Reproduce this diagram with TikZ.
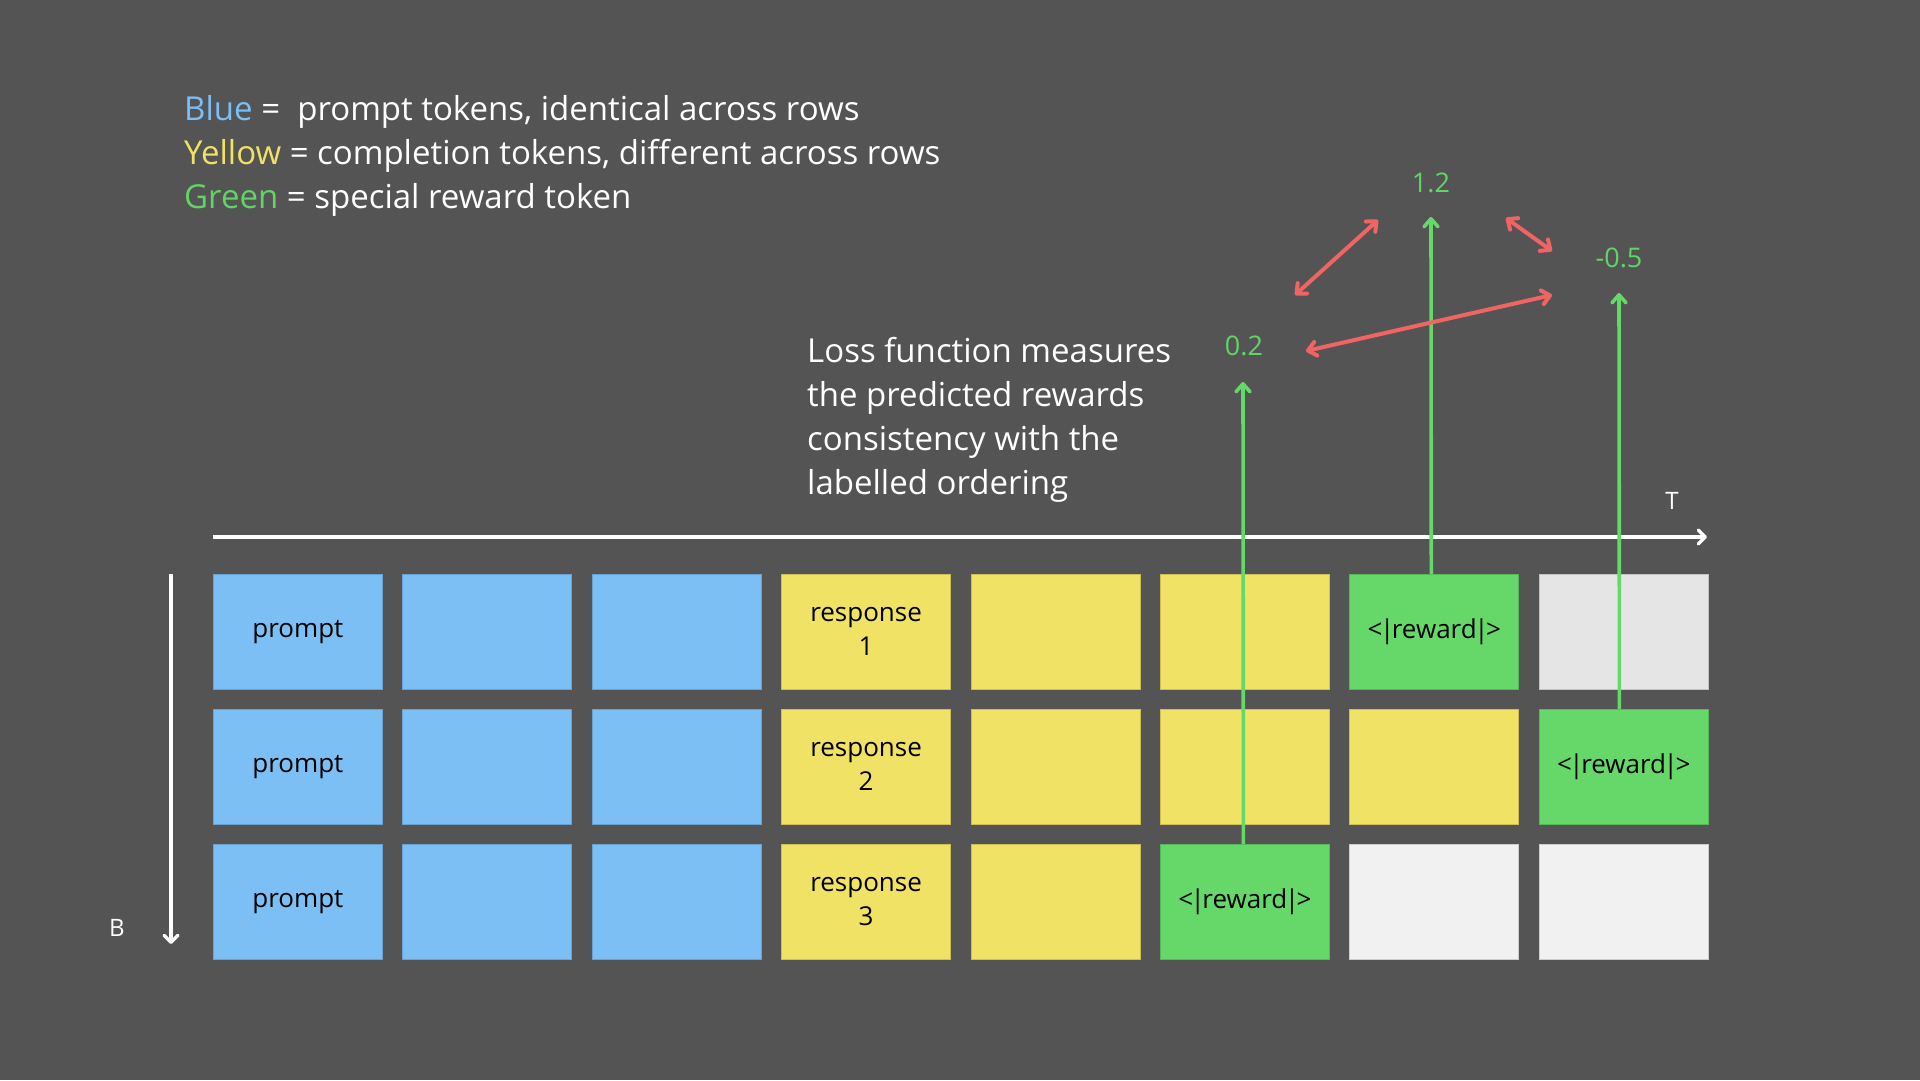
\documentclass[tikz,border=0pt]{standalone}
\usepackage{fontspec}
\setmainfont{Open Sans}
\usetikzlibrary{arrows.meta}
\definecolor{bg}{HTML}{545454}
\definecolor{cblue}{HTML}{7BBFF5}
\definecolor{cyellow}{HTML}{F0E264}
\definecolor{cgreen}{HTML}{66D86A}
\definecolor{cgrayA}{HTML}{E5E5E5}
\definecolor{cgrayB}{HTML}{F1F1F1}
\definecolor{cred}{HTML}{F06464}
\definecolor{tblue}{HTML}{7BBFF5}
\definecolor{tyellow}{HTML}{F0E264}
\definecolor{tgreen}{HTML}{62D466}
\newcommand{\rewardtok}{<\kern-2.5pt|\kern-2.5pt reward\kern-2.5pt|\kern-2.5pt>}
\tikzset{
  cell/.style={minimum width=169pt, minimum height=115pt, inner sep=0pt, anchor=north west,
    font=\fontsize{26}{34}\selectfont, align=center, text=black, draw=#1!85!black, line width=0.8pt, fill=#1},
  legend/.style={anchor=base west, inner sep=0pt, text=white, font=\fontsize{33}{44}\selectfont},
  axislbl/.style={inner sep=0pt, text=white, font=\fontsize{24}{28}\selectfont},
  vallbl/.style={inner sep=0pt, text=tgreen, font=\fontsize{27}{30}\selectfont},
  axisline/.style={draw=white, line width=3.4pt, -{Straight Barb[length=7pt,width=14pt,round]}},
  garrow/.style={draw=cgreen, line width=3.6pt, -{Straight Barb[length=8pt,width=14pt,round]}},
  rarrow/.style={draw=cred, line width=4pt, {Straight Barb[length=8pt,width=14pt,round]}-{Straight Barb[length=8pt,width=14pt,round]}, line cap=round},
}
\begin{document}
\begin{tikzpicture}[x=1pt,y=-1pt]
\fill[bg] (0,0) rectangle (1920,1080);
\useasboundingbox (0,0) rectangle (1920,1080);

% legend
\node[legend] (leg1) at (184,120) {\textcolor{tblue}{Blue} =\ \ prompt tokens, identical across rows};
\node[legend] (leg2) at (184,164) {\textcolor{tyellow}{Yellow} = completion tokens, different across rows};
\node[legend] (leg3) at (184,208) {\textcolor{tgreen}{Green} = special reward token};

% loss text
\node[legend] (loss1) at (807,362) {Loss function measures};
\node[legend] (loss2) at (807,406) {the predicted rewards};
\node[legend] (loss3) at (807,450) {consistency with the};
\node[legend] (loss4) at (807,494) {labelled ordering};

% cells
\def\px{189.4}
% row 1
\node[cell=cblue]   (r1c1) at (213+0*\px,574) {prompt};
\node[cell=cblue]   (r1c2) at (213+1*\px,574) {};
\node[cell=cblue]   (r1c3) at (213+2*\px,574) {};
\node[cell=cyellow] (r1c4) at (213+3*\px,574) {response\\1};
\node[cell=cyellow] (r1c5) at (213+4*\px,574) {};
\node[cell=cyellow] (r1c6) at (213+5*\px,574) {};
\node[cell=cgreen]  (r1c7) at (213+6*\px,574) {\rewardtok};
\node[cell=cgrayA]  (r1c8) at (213+7*\px,574) {};
% row 2
\node[cell=cblue]   (r2c1) at (213+0*\px,709) {prompt};
\node[cell=cblue]   (r2c2) at (213+1*\px,709) {};
\node[cell=cblue]   (r2c3) at (213+2*\px,709) {};
\node[cell=cyellow] (r2c4) at (213+3*\px,709) {response\\2};
\node[cell=cyellow] (r2c5) at (213+4*\px,709) {};
\node[cell=cyellow] (r2c6) at (213+5*\px,709) {};
\node[cell=cyellow] (r2c7) at (213+6*\px,709) {};
\node[cell=cgreen]  (r2c8) at (213+7*\px,709) {\rewardtok};
% row 3
\node[cell=cblue]   (r3c1) at (213+0*\px,844) {prompt};
\node[cell=cblue]   (r3c2) at (213+1*\px,844) {};
\node[cell=cblue]   (r3c3) at (213+2*\px,844) {};
\node[cell=cyellow] (r3c4) at (213+3*\px,844) {response\\3};
\node[cell=cyellow] (r3c5) at (213+4*\px,844) {};
\node[cell=cgreen]  (r3c6) at (213+5*\px,844) {\rewardtok};
\node[cell=cgrayB]  (r3c7) at (213+6*\px,844) {};
\node[cell=cgrayB]  (r3c8) at (213+7*\px,844) {};

% axes
\coordinate (tstart) at (213,537);
\coordinate (tend) at (1707,537);
\draw[axisline] (tstart) -- (tend);
\node[axislbl] (T) at (1672,501) {T};
\coordinate (bstart) at (171,574);
\coordinate (bend) at (171,944);
\draw[axisline] (bstart) -- (bend);
\node[axislbl] (B) at (117,928) {B};

% predicted values
\node[vallbl] (v02) at (1244,346) {0.2};
\node[vallbl] (v12) at (1431,183) {1.2};
\node[vallbl] (v05) at (1619,258) {-0.5};
\coordinate (g1e) at (1243,382);
\coordinate (g2e) at (1431,217);
\coordinate (g3e) at (1619,293);
\draw[garrow] ([xshift=-1.5pt]r3c6.north) -- (g1e);
\draw[garrow] ([xshift=-3pt]r1c7.north) -- (g2e);
\draw[garrow] ([xshift=-4.3pt]r2c8.north) -- (g3e);

% comparisons
\coordinate (ra1) at (1295,295);
\coordinate (ra2) at (1378,220);
\coordinate (rb1) at (1506,218);
\coordinate (rb2) at (1552,251);
\coordinate (rc1) at (1306,351);
\coordinate (rc2) at (1552,295);
\draw[rarrow] (ra1) -- (ra2);
\draw[rarrow] (rb1) -- (rb2);
\draw[rarrow] (rc1) -- (rc2);
\end{tikzpicture}
\end{document}
